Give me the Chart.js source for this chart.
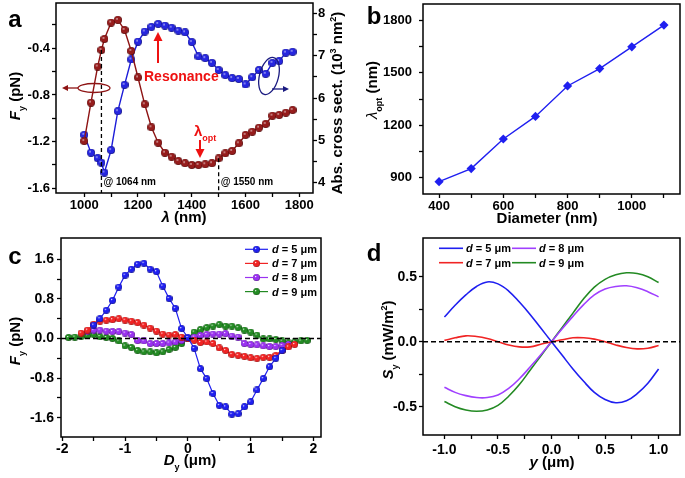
<!DOCTYPE html>
<html>
<head>
<meta charset="utf-8">
<script src="https://cdn.jsdelivr.net/npm/chart.js@4.4.1/dist/chart.umd.min.js"></script>
<style>
  html, body { margin: 0; padding: 0; background: #fff; }
  body { width: 685px; height: 478px; position: relative; overflow: hidden; }
  canvas { position: absolute; }
</style>
</head>
<body>
<canvas id="ca" width="345" height="238" style="left:0;top:0"></canvas>
<canvas id="cb" width="340" height="238" style="left:345px;top:0"></canvas>
<canvas id="cc" width="345" height="241" style="left:0;top:237px"></canvas>
<canvas id="cd" width="340" height="241" style="left:345px;top:237px"></canvas>
<script>
// ── panel a: force and absorption vs wavelength ──────────────────────────────
const wavelength = [1000, 1025, 1050, 1064, 1075, 1100, 1125, 1150, 1175, 1200, 1225, 1250, 1275, 1300, 1325, 1350, 1375,
  1400, 1425, 1450, 1475, 1500, 1525, 1550, 1575, 1600, 1625, 1650, 1675, 1700, 1725, 1750, 1775];
const forceFy = [-1.195, -0.866, -0.557, -0.415, -0.32, -0.18, -0.157, -0.243, -0.423, -0.65, -0.88, -1.077, -1.209,
  -1.295, -1.329, -1.366, -1.385, -1.40, -1.40, -1.394, -1.385, -1.343, -1.30, -1.28, -1.214, -1.143, -1.115, -1.08,
  -1.049, -0.978, -0.972, -0.952, -0.929];
const absCross = [5.13, 4.71, 4.58, 4.47, 4.24, 4.77, 5.69, 6.31, 6.91, 7.33, 7.57, 7.68, 7.75, 7.71, 7.66, 7.59, 7.55,
  7.32, 6.98, 6.94, 6.83, 6.66, 6.54, 6.47, 6.45, 6.32, 6.49, 6.66, 6.57, 6.83, 6.87, 7.07, 7.09];
const markerLambda = [1064, 1500];

// ── panel b: optimal wavelength vs diameter ──────────────────────────────────
const diameter = [400, 500, 600, 700, 800, 900, 1000, 1100];
const lambdaOpt = [875, 950, 1120, 1250, 1425, 1525, 1650, 1775];

// ── panel c: Fy vs Dy for four beam sizes ────────────────────────────────────
const dy = [-1.9, -1.8, -1.7, -1.6, -1.5, -1.4, -1.3, -1.2, -1.1, -1.0, -0.9, -0.8, -0.7, -0.6, -0.5, -0.4, -0.3, -0.2, -0.1,
  0, 0.1, 0.2, 0.3, 0.4, 0.5, 0.6, 0.7, 0.8, 0.9, 1.0, 1.1, 1.2, 1.3, 1.4, 1.5, 1.6, 1.7, 1.8, 1.9];
const fy5 = [null, null, null, null, 0.27, 0.40, 0.57, 0.77, 1.04, 1.28, 1.40, 1.50, 1.52, 1.40, 1.35, 1.06, 0.81, 0.61, 0.20,
  0.02, -0.20, -0.61, -0.81, -1.11, -1.35, -1.38, -1.53, -1.52, -1.38, -1.28, -1.04, -0.81, -0.57, -0.40, -0.24, null, null, null, null];
const fy7 = [null, null, 0.11, 0.17, 0.29, 0.35, 0.37, 0.38, 0.40, 0.37, 0.35, 0.32, 0.27, 0.21, 0.15, 0.09, 0.07, 0.08, 0.03,
  0.0, -0.04, -0.08, -0.07, -0.10, -0.19, -0.24, -0.32, -0.34, -0.36, -0.39, -0.40, -0.38, -0.38, -0.34, -0.24, -0.17, -0.12, null, null];
const fy8 = [null, null, null, 0.15, 0.17, 0.17, 0.15, 0.14, 0.14, 0.11, 0.08, -0.04, -0.05, -0.10, -0.10, -0.10, -0.09, -0.07, -0.04,
  0.0, 0.03, 0.06, 0.08, 0.09, 0.09, 0.10, 0.05, 0.03, -0.10, -0.12, -0.13, -0.15, -0.16, -0.16, -0.14, -0.12, null, null, null];
const fy9 = [0.02, 0.03, 0.04, 0.06, 0.08, 0.04, 0.02, 0.0, -0.05, -0.15, -0.18, -0.24, -0.27, -0.27, -0.29, -0.27, -0.22, -0.18, -0.10,
  0.0, 0.13, 0.18, 0.22, 0.25, 0.28, 0.25, 0.25, 0.22, 0.17, 0.13, 0.07, -0.01, -0.01, -0.02, -0.05, -0.09, -0.07, -0.05, -0.04];

// ── panel d: Poynting Sy vs y ────────────────────────────────────────────────
const yPos = [-1.0, -0.9, -0.8, -0.7, -0.6, -0.5, -0.4, -0.3, -0.2, -0.1, 0, 0.1, 0.2, 0.3, 0.4, 0.5, 0.6, 0.7, 0.8, 0.9, 1.0];
const sy5 = [0.19, 0.28, 0.36, 0.425, 0.46, 0.445, 0.39, 0.305, 0.21, 0.105, 0.0, -0.105, -0.21, -0.305, -0.39, -0.445, -0.47, -0.455, -0.40, -0.32, -0.21];
const sy7 = [0.01, 0.03, 0.045, 0.04, 0.025, 0.0, -0.025, -0.04, -0.04, -0.02, 0.0, 0.015, 0.03, 0.03, 0.02, 0.0, -0.025, -0.045, -0.055, -0.05, -0.03];
const sy8 = [-0.35, -0.39, -0.415, -0.43, -0.43, -0.41, -0.36, -0.285, -0.195, -0.10, 0.0, 0.10, 0.195, 0.285, 0.36, 0.405, 0.425, 0.43, 0.415, 0.385, 0.345];
const sy9 = [-0.46, -0.50, -0.525, -0.535, -0.525, -0.49, -0.42, -0.33, -0.22, -0.11, 0.0, 0.11, 0.22, 0.33, 0.42, 0.48, 0.515, 0.53, 0.525, 0.50, 0.455];

const FAM = '"Liberation Sans", Arial, Helvetica, sans-serif';
Chart.defaults.font.family = FAM;
Chart.defaults.font.weight = 'bold';
Chart.defaults.color = '#000';
Chart.defaults.animation = false;
Chart.defaults.plugins.legend.display = false;
Chart.defaults.plugins.tooltip.enabled = false;

const COLORS = {
  aRed: '#8e1414', aBlue: '#1c1cd8',
  blue: '#1f1ff0', red: '#f02424', purple: '#9a32f0', green: '#238a23',
};

// small shaded ball used as point marker (Origin style)
function sphere(color, edge, d) {
  const c = document.createElement('canvas');
  c.width = c.height = d;
  const g = c.getContext('2d');
  const r = d / 2;
  const grad = g.createRadialGradient(r * 0.72, r * 0.68, 0, r, r, r);
  grad.addColorStop(0, '#ffffff');
  grad.addColorStop(0.3, color);
  grad.addColorStop(0.8, color);
  grad.addColorStop(1, edge);
  g.fillStyle = grad;
  g.beginPath();
  g.arc(r, r, r, 0, Math.PI * 2);
  g.fill();
  return c;
}

const near = (a, b) => Math.abs(a - b) < 1e-9;

function axis({ pos, min, max, majors, minors = [], fmt, size = 13, fit, pad = 0 }) {
  const horizontal = pos === 'bottom' || pos === 'top';
  return {
    type: 'linear', position: pos, min, max,
    afterBuildTicks: (s) => { s.ticks = majors.concat(minors).sort((p, q) => p - q).map((v) => ({ value: v })); },
    afterFit: (s) => {
      if (horizontal) s.height = fit; else s.width = fit;
      s.paddingTop = s.paddingBottom = s.paddingLeft = s.paddingRight = 0;
    },
    ticks: {
      autoSkip: false, maxRotation: 0, padding: pad,
      font: { size, weight: 'bold' }, color: '#000',
      callback: (v) => (majors.some((m) => near(m, v)) ? fmt(v) : ''),
    },
    grid: { drawOnChartArea: false, drawTicks: true, tickLength: 4, tickWidth: 1.3, tickColor: '#000' },
    border: { display: false },
  };
}

// text with italic / sub / sup parts
function rich(ctx, parts, x, y, size, opt = {}) {
  const fontOf = (p) => `${p.i ? 'italic ' : ''}${p.w || 'bold'} ${(p.s || p.u) ? Math.round(size * 0.62) : size}px ${FAM}`;
  ctx.save();
  ctx.translate(x, y);
  if (opt.rot) ctx.rotate(opt.rot);
  ctx.fillStyle = opt.color || '#000';
  ctx.textBaseline = 'alphabetic';
  ctx.textAlign = 'left';
  let w = 0;
  parts.forEach((p) => { ctx.font = fontOf(p); p._w = ctx.measureText(p.t).width; w += p._w; });
  let cx = opt.align === 'left' ? 0 : -w / 2;
  const base = size * 0.36;
  parts.forEach((p) => {
    ctx.font = fontOf(p);
    const off = p.s ? size * 0.3 : p.u ? -size * 0.4 : 0;
    ctx.fillText(p.t, cx, base + off);
    cx += p._w;
  });
  ctx.restore();
}

function arrow(ctx, x1, y1, x2, y2, color, lw, hl, hw) {
  const a = Math.atan2(y2 - y1, x2 - x1);
  const ca = Math.cos(a), sa = Math.sin(a);
  ctx.strokeStyle = color; ctx.fillStyle = color; ctx.lineWidth = lw;
  ctx.beginPath(); ctx.moveTo(x1, y1); ctx.lineTo(x2 - ca * hl * 0.7, y2 - sa * hl * 0.7); ctx.stroke();
  ctx.beginPath();
  ctx.moveTo(x2, y2);
  ctx.lineTo(x2 - hl * ca + hw * sa, y2 - hl * sa - hw * ca);
  ctx.lineTo(x2 - hl * ca - hw * sa, y2 - hl * sa + hw * ca);
  ctx.closePath(); ctx.fill();
}

function zeroLine(chart, ctx) {
  const y = chart.scales.y.getPixelForValue(0);
  const a = chart.chartArea;
  ctx.save();
  ctx.setLineDash([5, 3]); ctx.lineWidth = 1.6; ctx.strokeStyle = '#000';
  ctx.beginPath(); ctx.moveTo(a.left, y); ctx.lineTo(a.right, y); ctx.stroke();
  ctx.restore();
}

function decor(drawFn) {
  return {
    id: 'decor',
    afterDraw(chart) {
      const ctx = chart.ctx;
      ctx.save(); drawFn(chart, ctx); ctx.restore();
      const a = chart.chartArea;
      ctx.save(); ctx.strokeStyle = '#000'; ctx.lineWidth = 1.5;
      ctx.strokeRect(a.left, a.top, a.right - a.left, a.bottom - a.top);
      ctx.restore();
    },
  };
}

const xy = (xs, ys) => xs.map((x, i) => ({ x, y: ys[i] }));

// ── chart a ──────────────────────────────────────────────────────────────────
new Chart(document.getElementById('ca'), {
  type: 'line',
  data: {
    datasets: [
      { data: xy(wavelength, forceFy), yAxisID: 'y', borderColor: COLORS.aRed, borderWidth: 1.4,
        pointStyle: sphere('#961c1c', '#4a0505', 8), tension: 0 },
      { data: xy(wavelength, absCross), yAxisID: 'y2', borderColor: COLORS.aBlue, borderWidth: 1.4,
        pointStyle: sphere('#2626e0', '#0a0a70', 8), tension: 0 },
    ],
  },
  options: {
    responsive: false, devicePixelRatio: 1,
    layout: { autoPadding: false, padding: { top: 3, left: 0, right: 0, bottom: 0 } },
    scales: {
      x: axis({ pos: 'bottom', min: 895, max: 1851, majors: [1000, 1200, 1400, 1600, 1800], minors: [1100, 1300, 1500, 1700],
        fmt: (v) => String(v), fit: 45, pad: 1 }),
      y: axis({ pos: 'left', min: -1.64, max: -0.012, majors: [-1.6, -1.2, -0.8, -0.4], minors: [-1.4, -1.0, -0.6, -0.2],
        fmt: (v) => v.toFixed(1), fit: 56, pad: 2 }),
      y2: axis({ pos: 'right', min: 3.757, max: 8.243, majors: [4, 5, 6, 7, 8], minors: [4.5, 5.5, 6.5, 7.5],
        fmt: (v) => String(v), fit: 32, pad: 1 }),
    },
  },
  plugins: [decor((chart, ctx) => {
    const xs = chart.scales.x, yl = chart.scales.y, a = chart.chartArea;
    // dashed markers from the red curve down to the axis
    ctx.save();
    ctx.setLineDash([4, 3]); ctx.lineWidth = 1.3; ctx.strokeStyle = '#000';
    markerLambda.forEach((l) => {
      const i = wavelength.indexOf(l);
      const x = xs.getPixelForValue(l);
      ctx.beginPath(); ctx.moveTo(x, yl.getPixelForValue(forceFy[i])); ctx.lineTo(x, a.bottom); ctx.stroke();
    });
    ctx.restore();
    rich(ctx, [{ t: '@ 1064 nm' }], xs.getPixelForValue(1064) + 2, 181, 10, { align: 'left' });
    rich(ctx, [{ t: '@ 1550 nm' }], xs.getPixelForValue(1500) + 2, 181, 10, { align: 'left' });
    // red ellipse + arrow (left axis)
    ctx.strokeStyle = COLORS.aRed; ctx.lineWidth = 1.3;
    ctx.beginPath(); ctx.ellipse(94, 88, 16, 4.5, 0, 0, Math.PI * 2); ctx.stroke();
    arrow(ctx, 78, 88, 62, 88, COLORS.aRed, 1.3, 6, 3);
    // blue ellipse + arrow (right axis)
    ctx.strokeStyle = '#1a1a80'; ctx.lineWidth = 1.3;
    ctx.beginPath(); ctx.ellipse(269, 76, 9.5, 19, 0.25, 0, Math.PI * 2); ctx.stroke();
    arrow(ctx, 272, 89, 289, 89, '#1a1a80', 1.3, 6, 3);
    // annotations
    arrow(ctx, 158, 63, 158, 32, '#ee1111', 2, 9, 4.5);
    rich(ctx, [{ t: 'Resonance' }], 144, 76, 14, { align: 'left', color: '#ee1111' });
    rich(ctx, [{ t: 'λ' }, { t: 'opt', s: 1 }], 194, 131, 15, { align: 'left', color: '#ee1111' });
    arrow(ctx, 200, 140, 200, 158, '#ee1111', 2, 9, 4.5);
    // axis titles and panel letter
    rich(ctx, [{ t: 'F', i: 1 }, { t: 'y', s: 1 }, { t: ' (pN)' }], 15, 96, 15, { rot: -Math.PI / 2 });
    rich(ctx, [{ t: 'Abs. cross sect. (10' }, { t: '3', u: 1 }, { t: ' nm' }, { t: '2', u: 1 }, { t: ')' }], 337, 103, 15, { rot: -Math.PI / 2 });
    rich(ctx, [{ t: 'λ', i: 1 }, { t: ' (nm)' }], 184, 217, 15);
    rich(ctx, [{ t: 'a' }], 15, 18.5, 24);
  })],
});

// ── chart b ──────────────────────────────────────────────────────────────────
new Chart(document.getElementById('cb'), {
  type: 'line',
  data: {
    datasets: [{ data: xy(diameter, lambdaOpt), borderColor: COLORS.blue, backgroundColor: COLORS.blue, borderWidth: 1.4,
      pointStyle: 'rectRot', pointRadius: 4.6, pointBorderWidth: 0, tension: 0 }],
  },
  options: {
    responsive: false, devicePixelRatio: 1,
    layout: { autoPadding: false, padding: { top: 4, left: 0, right: 5, bottom: 0 } },
    scales: {
      x: axis({ pos: 'bottom', min: 350, max: 1150, majors: [400, 600, 800, 1000], minors: [500, 700, 900, 1100],
        fmt: (v) => String(v), fit: 44, pad: 1 }),
      y: axis({ pos: 'left', min: 804, max: 1896, majors: [900, 1200, 1500, 1800], minors: [1050, 1350, 1650],
        fmt: (v) => String(v), fit: 78, pad: 7 }),
    },
  },
  plugins: [decor((chart, ctx) => {
    rich(ctx, [{ t: 'λ', i: 1, w: 'normal' }, { t: 'opt', s: 1 }, { t: ' (nm)' }], 27, 90, 15, { rot: -Math.PI / 2 });
    rich(ctx, [{ t: 'Diameter (nm)' }], 202, 218, 15);
    rich(ctx, [{ t: 'b' }], 29, 15.5, 24);
  })],
});

// ── chart c ──────────────────────────────────────────────────────────────────
const seriesC = [
  { name: '5', data: fy5, color: COLORS.blue, edge: '#08087a' },
  { name: '7', data: fy7, color: COLORS.red, edge: '#8a0a0a' },
  { name: '8', data: fy8, color: COLORS.purple, edge: '#4a1080' },
  { name: '9', data: fy9, color: COLORS.green, edge: '#0c4a0c' },
];
seriesC.forEach((s) => { s.img = sphere(s.color, s.edge, 7); });
new Chart(document.getElementById('cc'), {
  type: 'line',
  data: {
    datasets: seriesC.map((s) => ({ data: xy(dy, s.data), borderColor: s.color, borderWidth: 1.2,
      pointStyle: s.img, tension: 0, spanGaps: false })),
  },
  options: {
    responsive: false, devicePixelRatio: 1,
    layout: { autoPadding: false, padding: { top: 1, left: 0, right: 24, bottom: 0 } },
    scales: {
      x: axis({ pos: 'bottom', min: -2.02, max: 2.12, majors: [-2, -1, 0, 1, 2], minors: [-1.5, -0.5, 0.5, 1.5],
        fmt: (v) => String(v), fit: 41, pad: 0, size: 14 }),
      y: axis({ pos: 'left', min: -1.99, max: 2.03, majors: [-1.6, -0.8, 0, 0.8, 1.6], minors: [-1.2, -0.4, 0.4, 1.2],
        fmt: (v) => v.toFixed(1), fit: 61, pad: 3, size: 14 }),
    },
  },
  plugins: [decor((chart, ctx) => {
    zeroLine(chart, ctx);
    seriesC.forEach((s, i) => {
      const y = 12.3 + i * 14.1;
      ctx.strokeStyle = s.color; ctx.lineWidth = 1.2;
      ctx.beginPath(); ctx.moveTo(245, y); ctx.lineTo(268, y); ctx.stroke();
      ctx.drawImage(s.img, 253, y - 3.5);
      rich(ctx, [{ t: 'd', i: 1 }, { t: ' = ' + s.name + ' μm' }], 272, y, 11, { align: 'left' });
    });
    rich(ctx, [{ t: 'F', i: 1 }, { t: 'y', s: 1 }, { t: ' (pN)' }], 15, 104, 15, { rot: -Math.PI / 2 });
    rich(ctx, [{ t: 'D', i: 1 }, { t: 'y', s: 1 }, { t: ' (μm)' }], 190, 223, 15);
    rich(ctx, [{ t: 'c' }], 15, 18.7, 24);
  })],
});

// ── chart d ──────────────────────────────────────────────────────────────────
const seriesD = [
  { name: '5', data: sy5, color: COLORS.blue, lx: 94, ly: 11.3 },
  { name: '7', data: sy7, color: COLORS.red, lx: 94, ly: 25.7 },
  { name: '8', data: sy8, color: '#a040ff', lx: 167, ly: 11.3 },
  { name: '9', data: sy9, color: COLORS.green, lx: 167, ly: 25.7 },
];
new Chart(document.getElementById('cd'), {
  type: 'line',
  data: {
    datasets: seriesD.map((s) => ({ data: xy(yPos, s.data), borderColor: s.color, borderWidth: 1.6,
      pointRadius: 0, tension: 0.4 })),
  },
  options: {
    responsive: false, devicePixelRatio: 1,
    layout: { autoPadding: false, padding: { top: 1, left: 0, right: 5, bottom: 0 } },
    scales: {
      x: axis({ pos: 'bottom', min: -1.2, max: 1.2, majors: [-1, -0.5, 0, 0.5, 1], minors: [-0.75, -0.25, 0.25, 0.75],
        fmt: (v) => v.toFixed(1), fit: 43, pad: 3, size: 14 }),
      y: axis({ pos: 'left', min: -0.718, max: 0.798, majors: [-0.5, 0, 0.5], minors: [-0.25, 0.25],
        fmt: (v) => v.toFixed(1), fit: 78, pad: 2, size: 14 }),
    },
  },
  plugins: [decor((chart, ctx) => {
    zeroLine(chart, ctx);
    seriesD.forEach((s) => {
      ctx.strokeStyle = s.color; ctx.lineWidth = 1.6;
      ctx.beginPath(); ctx.moveTo(s.lx, s.ly); ctx.lineTo(s.lx + 24, s.ly); ctx.stroke();
      rich(ctx, [{ t: 'd', i: 1 }, { t: ' = ' + s.name + ' μm' }], s.lx + 27, s.ly, 11, { align: 'left' });
    });
    rich(ctx, [{ t: 'S', i: 1 }, { t: 'y', s: 1 }, { t: ' (mW/m' }, { t: '2', u: 1 }, { t: ')' }], 43, 103, 15, { rot: -Math.PI / 2 });
    rich(ctx, [{ t: 'y', i: 1 }, { t: ' (μm)' }], 207, 225, 15);
    rich(ctx, [{ t: 'd' }], 29, 15, 24);
  })],
});
</script>
</body>
</html>
